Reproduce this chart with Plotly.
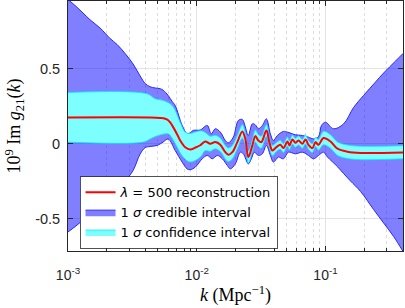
import numpy as np
import plotly.graph_objects as go

# ---- data (k in Mpc^-1, values are 1e9 Im g21) ----
k_mean = [0.00100, 0.00435, 0.00520, 0.00569, 0.00600, 0.00622, 0.00656, 0.00705, 0.00744, 0.00814,
          0.00890, 0.00973, 0.01065, 0.01165, 0.01274, 0.01393, 0.01524, 0.01667, 0.01759, 0.01889,
          0.02066, 0.02260, 0.02384, 0.02516, 0.02704, 0.02853, 0.03010, 0.03176, 0.03474, 0.03666,
          0.03868, 0.04156, 0.04465, 0.04711, 0.05062, 0.05247, 0.05537, 0.05842, 0.06164, 0.06622,
          0.06987, 0.07373, 0.07920, 0.08357, 0.08818, 0.09647, 0.1094, 0.1240, 0.1483, 0.1873, 0.4]
mean = [0.173, 0.173, 0.170, 0.165, 0.155, 0.140, 0.109, 0.060, 0.020, -0.025,
        -0.040, -0.028, -0.012, 0.013, -0.002, 0.009, -0.009, -0.058, -0.075, -0.058,
        0.009, 0.080, 0.031, -0.091, -0.013, 0.049, 0.020, 0.009, 0.087, 0.009,
        -0.047, -0.024, -0.009, -0.031, 0.013, -0.013, 0.027, 0.004, 0.020, -0.002,
        0.027, -0.009, -0.031, 0.009, -0.009, 0.036, 0.013, -0.035, -0.055, -0.063, -0.060]

k_cred_hi = [0.00100, 0.001134, 0.001308, 0.001483, 0.001774, 0.002122, 0.002406, 0.002777, 0.003204, 0.003634,
             0.003974, 0.004346, 0.004753, 0.005200, 0.005487, 0.006000, 0.006446, 0.006803, 0.007713, 0.008436,
             0.008900, 0.009393, 0.01065, 0.01207, 0.01297, 0.01393, 0.01524, 0.01667, 0.01759, 0.01923,
             0.02104, 0.02260, 0.02384, 0.02516, 0.02704, 0.02853, 0.03010, 0.03233, 0.03474, 0.03733,
             0.03938, 0.04231, 0.04711, 0.05062, 0.05537, 0.05842, 0.06622, 0.07373, 0.08066, 0.08818,
             0.09309, 0.1000, 0.1154, 0.1381, 0.1652, 0.1976, 0.2449, 0.2828, 0.3505, 0.4]
cred_hi = [0.96, 0.92, 0.87, 0.825, 0.77, 0.70, 0.66, 0.60, 0.53, 0.45,
           0.40, 0.378, 0.37, 0.365, 0.355, 0.32, 0.28, 0.253, 0.12, 0.065,
           0.072, 0.087, 0.09, 0.12, 0.064, 0.098, 0.076, 0.02, 0.004, 0.042,
           0.153, 0.16, 0.11, 0.053, 0.131, 0.124, 0.098, 0.12, 0.164, 0.064,
           0.02, 0.053, 0.08, 0.076, 0.064, 0.058, 0.053, 0.042, 0.031, 0.045,
           0.12, 0.142, 0.098, 0.13, 0.24, 0.32, 0.41, 0.47, 0.55, 0.60]

k_cred_lo = [0.00100, 0.001134, 0.001308, 0.001483, 0.001774, 0.002122, 0.002406, 0.002777, 0.003204, 0.003634,
             0.003974, 0.004346, 0.004930, 0.005487, 0.006000, 0.006803, 0.007713, 0.008436, 0.008900, 0.009733,
             0.01103, 0.01207, 0.01320, 0.01444, 0.01579, 0.01728, 0.01823, 0.01994, 0.02181, 0.02301,
             0.02516, 0.02655, 0.02802, 0.03010, 0.03233, 0.03474, 0.03733, 0.03938, 0.04307, 0.04711,
             0.05152, 0.05842, 0.06622, 0.07373, 0.08066, 0.08818, 0.09647, 0.1036, 0.1240, 0.1381,
             0.1565, 0.1873, 0.2363, 0.2828, 0.3382, 0.4]
cred_lo = [-0.59, -0.555, -0.51, -0.47, -0.42, -0.36, -0.31, -0.25, -0.18, -0.07,
           -0.028, -0.02, -0.013, 0.01, 0.03, -0.047, -0.125, -0.17, -0.175, -0.158,
           -0.102, -0.08, -0.102, -0.08, -0.102, -0.147, -0.169, -0.136, -0.058, -0.069,
           -0.136, -0.102, -0.058, -0.08, -0.069, -0.013, -0.08, -0.124, -0.091, -0.102,
           -0.058, -0.069, -0.058, -0.08, -0.102, -0.08, -0.058, -0.09, -0.155, -0.20,
           -0.25, -0.32, -0.44, -0.53, -0.62, -0.72]

k_conf_hi = [0.00100, 0.004121, 0.004753, 0.005487, 0.006446, 0.00744, 0.008136, 0.00890, 0.01065,
             0.01165, 0.01274, 0.01393, 0.01524, 0.01667, 0.01759, 0.01889, 0.02066, 0.02260, 0.02384,
             0.02516, 0.02704, 0.02853, 0.03010, 0.03176, 0.03474, 0.03666, 0.03868, 0.04156, 0.04465,
             0.04711, 0.05062, 0.05247, 0.05537, 0.05842, 0.06164, 0.06622, 0.06987, 0.07373, 0.07920,
             0.08357, 0.08818, 0.09647, 0.1094, 0.1240, 0.1483, 0.1873, 0.4]
conf_hi = [0.34, 0.331, 0.298, 0.287, 0.253, 0.14, 0.075, 0.067, 0.085,
           0.073, 0.048, 0.054, 0.036, -0.013, -0.03, -0.013, 0.054, 0.125, 0.071,
           -0.051, 0.027, 0.089, 0.06, 0.049, 0.127, 0.044, -0.012, 0.006, 0.021,
           -0.001, 0.043, 0.017, 0.057, 0.034, 0.05, 0.028, 0.057, 0.021, -0.001,
           0.039, 0.026, 0.081, 0.058, 0.01, -0.01, -0.018, -0.015]

k_conf_lo = [0.00100, 0.003835, 0.004346, 0.005016, 0.006000, 0.006446, 0.00705, 0.00785, 0.00890, 0.01065,
             0.01165, 0.01274, 0.01393, 0.01524, 0.01667, 0.01759, 0.01889, 0.02066, 0.02260, 0.02384,
             0.02516, 0.02704, 0.02853, 0.03010, 0.03176, 0.03474, 0.03666, 0.03868, 0.04156, 0.04465,
             0.04711, 0.05062, 0.05247, 0.05537, 0.05842, 0.06164, 0.06622, 0.06987, 0.07373, 0.07920,
             0.08357, 0.08818, 0.09647, 0.1094, 0.1240, 0.1483, 0.1873, 0.4]
conf_lo = [0.009, 0.009, 0.03, 0.053, 0.064, 0.035, -0.025, -0.091, -0.124, -0.091,
           -0.047, -0.052, -0.036, -0.054, -0.103, -0.12, -0.103, -0.036, 0.035, -0.009,
           -0.131, -0.053, 0.009, -0.02, -0.031, 0.047, -0.026, -0.082, -0.054, -0.039,
           -0.061, -0.017, -0.043, -0.003, -0.026, -0.01, -0.032, -0.003, -0.039, -0.061,
           -0.021, -0.044, -0.009, -0.032, -0.08, -0.1, -0.108, -0.102]

x_ticks = [1e-3, 1e-2, 1e-1]
x_ticktext = ["10<sup>-3</sup>", "10<sup>-2</sup>", "10<sup>-1</sup>"]
x_minor = [2e-3, 3e-3, 4e-3, 5e-3, 6e-3, 7e-3, 8e-3, 9e-3,
           2e-2, 3e-2, 4e-2, 5e-2, 6e-2, 7e-2, 8e-2, 9e-2, 2e-1, 3e-1, 4e-1]
y_ticks = [-0.5, 0, 0.5]
y_ticktext = ["-0.5", "0", "0.5"]

names = ["<i>λ</i> = 500 reconstruction", "1 <i>σ</i> credible interval", "1 <i>σ</i> confidence interval"]

BLUE_FILL = "rgba(0,0,255,0.5)"
BLUE_EDGE = "rgb(40,40,255)"
CYAN_FILL = "rgb(125,255,255)"
CYAN_EDGE = "rgb(0,235,255)"

fig = go.Figure()
fig.add_trace(go.Scatter(x=k_cred_lo, y=cred_lo, mode="lines", line=dict(color=BLUE_EDGE, width=1, shape="spline"),
                         showlegend=False, hoverinfo="skip"))
fig.add_trace(go.Scatter(x=k_cred_hi, y=cred_hi, mode="lines", line=dict(color=BLUE_EDGE, width=1, shape="spline"),
                         fill="tonexty", fillcolor=BLUE_FILL, name=names[1], legendrank=2))
fig.add_trace(go.Scatter(x=k_conf_lo, y=conf_lo, mode="lines", line=dict(color=CYAN_EDGE, width=0.8, shape="spline"),
                         showlegend=False, hoverinfo="skip"))
fig.add_trace(go.Scatter(x=k_conf_hi, y=conf_hi, mode="lines", line=dict(color=CYAN_EDGE, width=0.8, shape="spline"),
                         fill="tonexty", fillcolor=CYAN_FILL, name=names[2], legendrank=3))
fig.add_trace(go.Scatter(x=k_mean, y=mean, mode="lines", line=dict(color="rgb(255,0,0)", width=2, shape="spline"),
                         name=names[0], legendrank=1))

AX = "#262626"
fig.update_layout(
    width=405, height=308,
    margin=dict(l=68, r=2, t=1, b=57, autoexpand=False),
    paper_bgcolor="white", plot_bgcolor="white",
    font=dict(family="Liberation Sans, Arial, sans-serif", size=12, color=AX),
    showlegend=True,
    legend=dict(x=0.035, y=0.298, xanchor="left", yanchor="top", traceorder="normal",
                bgcolor="white", bordercolor=AX, borderwidth=0.8,
                font=dict(family="DejaVu Sans, sans-serif", size=13, color="#000000"),
                tracegroupgap=0, itemwidth=30),
    xaxis=dict(type="log", range=[-3, np.log10(0.4)], automargin=False,
               tickmode="array", tickvals=x_ticks, ticktext=x_ticktext,
               ticks="inside", ticklen=5, tickcolor=AX, tickwidth=0.8,
               showline=True, linecolor=AX, linewidth=0.8, mirror="allticks",
               showgrid=True, gridcolor="#e3e3e3", gridwidth=1, zeroline=False,
               tickfont=dict(size=14, color=AX), ticklabelstandoff=11,
               minor=dict(tickmode="array", tickvals=x_minor, ticks="inside", ticklen=3,
                          tickcolor=AX, showgrid=True, gridcolor="#dcdcdc", griddash="dot", gridwidth=0.8),
               title=dict(text="<i>k</i> (Mpc<sup>−1</sup>)", standoff=6,
                          font=dict(family="Liberation Serif, DejaVu Serif, serif", size=18, color="#000000"))),
    yaxis=dict(range=[-0.717, 0.95], automargin=False,
               tickmode="array", tickvals=y_ticks, ticktext=y_ticktext,
               ticks="inside", ticklen=5, tickcolor=AX, tickwidth=0.8,
               showline=True, linecolor=AX, linewidth=0.8, mirror="allticks",
               showgrid=True, gridcolor="#e3e3e3", gridwidth=1, zeroline=False,
               tickfont=dict(size=14.5, color=AX), ticklabelstandoff=4,
               title=dict(text="10<sup>9</sup> Im <i>g</i><sub>21</sub>(<i>k</i>)", standoff=9,
                          font=dict(family="Liberation Serif, DejaVu Serif, serif", size=18, color="#000000"))),
)

fig.write_html("out.html", config={"displayModeBar": False},
               post_script="document.body.style.margin='0';")
